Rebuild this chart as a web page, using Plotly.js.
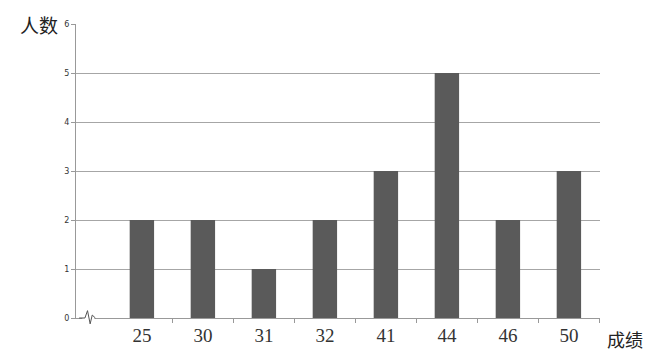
<!DOCTYPE html>
<html>
<head>
<meta charset="utf-8">
<script src="https://cdn.plot.ly/plotly-3.0.1.min.js"></script>
<style>html,body{margin:0;padding:0;background:#fff;}#chart{width:651px;height:351px;}</style>
</head>
<body>
<div id="chart"></div>
<script>
var scores = ['25', '30', '31', '32', '41', '44', '46', '50'];
var counts = [2, 2, 1, 2, 3, 5, 2, 3];
var yTicks = [0, 1, 2, 3, 4, 5, 6];
var yTitle = '人数';
var xTitle = '成绩';

var idx = scores.map(function (s, i) { return i; });
var bounds = scores.map(function (s, i) { return i + 0.5; });

var trace = {
  type: 'bar',
  x: idx,
  y: counts,
  width: 0.4,
  marker: {color: '#5a5a5a', line: {width: 0}},
  hoverinfo: 'none'
};

var layout = {
  width: 651,
  height: 351,
  margin: {l: 76, r: 51, t: 24, b: 33},
  paper_bgcolor: '#ffffff',
  plot_bgcolor: '#ffffff',
  showlegend: false,
  xaxis: {
    type: 'linear',
    range: [-1.08, 7.51],
    tickmode: 'array',
    tickvals: idx,
    ticktext: scores,
    ticks: '',
    ticklen: 4,
    minor: {tickmode: 'array', tickvals: bounds, ticks: 'outside', ticklen: 4, tickcolor: '#999999', showgrid: false},
    showgrid: false,
    showline: true,
    linecolor: '#999999',
    linewidth: 1,
    zeroline: false,
    tickfont: {family: 'Liberation Serif, Times New Roman, serif', size: 19, color: '#333333'},
    fixedrange: true
  },
  yaxis: {
    range: [0, 6],
    tickvals: yTicks,
    ticks: 'outside',
    ticklen: 4,
    tickcolor: '#999999',
    showgrid: true,
    gridcolor: '#a6a6a6',
    gridwidth: 1,
    showline: true,
    linecolor: '#999999',
    linewidth: 1,
    zeroline: false,
    tickfont: {family: 'DejaVu Sans, sans-serif', size: 8, color: '#333333'},
    fixedrange: true
  },
  shapes: [
    {type: 'rect', xref: 'paper', yref: 'paper', x0: 0.012, x1: 0.035, y0: -0.015, y1: 0.015,
     fillcolor: '#ffffff', line: {width: 0}},
    {type: 'path', xref: 'paper', yref: 'paper',
     path: 'M 0.006 0.0 L 0.017 0.0 L 0.022 0.025 L 0.027 -0.02 L 0.031 0.01 L 0.037 0.0',
     line: {color: '#555555', width: 1}}
  ],
  annotations: [
    {text: yTitle, xref: 'paper', yref: 'paper', x: -0.033, y: 1.0, xanchor: 'right', yanchor: 'middle',
     showarrow: false, borderpad: 0, font: {family: 'Noto Sans CJK SC', size: 19, color: '#222222'}},
    {text: xTitle, xref: 'paper', yref: 'paper', x: 1.0115, y: -0.07, xanchor: 'left', yanchor: 'middle',
     showarrow: false, borderpad: 0, font: {family: 'Noto Sans CJK SC', size: 18, color: '#222222'}}
  ]
};

Plotly.newPlot('chart', [trace], layout, {displayModeBar: false, staticPlot: true});
</script>
</body>
</html>
